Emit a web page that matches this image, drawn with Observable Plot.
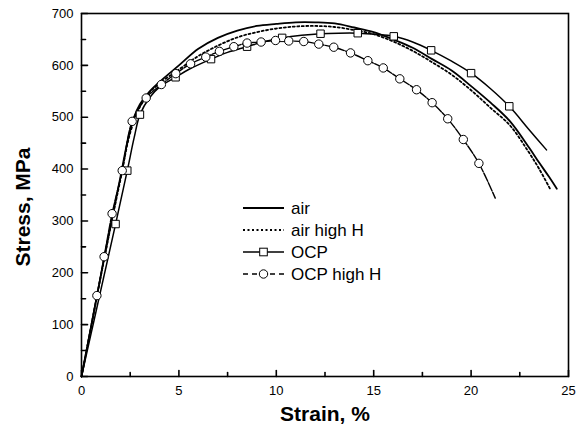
<!DOCTYPE html>
<html>
<head>
<meta charset="utf-8">
<script src="https://cdn.jsdelivr.net/npm/d3@7"></script>
<script src="https://cdn.jsdelivr.net/npm/@observablehq/plot@0.6"></script>
<style>
html,body{margin:0;padding:0;background:#fff;}
svg{display:block;}
</style>
</head>
<body>
<div id="chart"></div>
<script>
// ---- data ----
const airStrain = [0,0.5,1,1.5,2,2.4,2.7,3,3.5,4,5,6,7,8,9,10,11,12,13,14,15,16,17,18,19,20,21,22,23,23.5,24,24.4];
const airStress = [0,98,196,292,385,460,500,525,550,568,600,632,653,667,676,680,683,683,681,673,664,650,634,612,590,560,528,492,440,412,385,362];

const airHStrain = [0,0.5,1,1.5,2,2.5,3,3.5,4,5,6,7,8,9,10,11,12,13,14,15,16,17,18,19,20,21,22,22.9,23.5,24.08];
const airHStress = [0,97,195,290,380,470,520,548,565,592,618,638,654,664,671,675,676,674,668,660,646,628,606,582,552,518,484,436,400,360];

const ocpStrain = [0,0.5,1,1.75,2.35,2.7,3.0,3.5,4,4.83,5.5,6.65,7.5,8.5,9.4,10.3,11.3,12.27,13.2,14.18,15.1,16.03,17,17.95,19,20,21,21.96,23,23.87];
const ocpStress = [0,84,168,294,397,460,505,538,558,577,592,612,625,636,646,653,658,661,662,662,660,656,645,629,608,585,555,521,475,437];
const ocpMarkStrain = [1.75,2.35,3.0,4.83,6.65,8.5,10.3,12.27,14.18,16.03,17.95,20,21.96];
const ocpMarkStress = [294,397,505,577,612,636,653,661,662,656,629,585,521];

const ocpHStrain = [0,0.79,1.16,1.57,2.09,2.6,3.32,4.1,4.84,5.6,6.38,7.08,7.82,8.5,9.22,9.96,10.64,11.41,12.18,12.95,13.81,14.7,15.49,16.34,17.2,18.0,18.8,19.6,20.4,21.24];
const ocpHStress = [0,156,231,314,397,492,537,563,584,603,616,627,636,643,645,648,647,646,641,635,624,609,595,574,553,528,497,457,411,344];
const ocpHMarkStrain = ocpHStrain.slice(1, -1);
const ocpHMarkStress = ocpHStress.slice(1, -1);

const xMajor = [0,5,10,15,20,25];
const xMinor = [2.5,7.5,12.5,17.5,22.5];
const yMajor = [0,100,200,300,400,500,600,700];
const yMinor = [50,150,250,350,450,550,650];

const seriesNames = ["air","air high H","OCP","OCP high H"];

const toRows = (xs, ys) => xs.map((x, i) => ({strain: x, stress: ys[i]}));
const air = toRows(airStrain, airStress);
const airH = toRows(airHStrain, airHStress);
const ocp = toRows(ocpStrain, ocpStress);
const ocpM = toRows(ocpMarkStrain, ocpMarkStress);
const ocpH = toRows(ocpHStrain, ocpHStress);
const ocpHM = toRows(ocpHMarkStrain, ocpHMarkStress);

const FONT = "'Liberation Sans', Arial, Helvetica, sans-serif";
const tickShape = {draw(ctx, l) { ctx.moveTo(0, 0); ctx.lineTo(0, -l); }};

const plot = Plot.plot({
  width: 583,
  height: 429,
  marginLeft: 81,
  marginRight: 15,
  marginTop: 13,
  marginBottom: 53,
  style: {fontFamily: FONT, background: "white", color: "black"},
  x: {domain: [0, 25]},
  y: {domain: [0, 700]},
  marks: [
    Plot.line(air, {x: "strain", y: "stress", stroke: "black", strokeWidth: 1.8, curve: "catmull-rom"}),
    Plot.line(airH, {x: "strain", y: "stress", stroke: "black", strokeWidth: 1.8, strokeDasharray: "2,2.5", curve: "catmull-rom"}),
    Plot.line(ocp, {x: "strain", y: "stress", stroke: "black", strokeWidth: 1.5, curve: "catmull-rom"}),
    Plot.line(ocpH, {x: "strain", y: "stress", stroke: "black", strokeWidth: 1.4, strokeDasharray: "9,1.5", curve: "catmull-rom"}),
    Plot.dot(ocpM, {x: "strain", y: "stress", symbol: "square", r: 4.2, fill: "white", stroke: "black", strokeWidth: 1}),
    Plot.dot(ocpHM, {x: "strain", y: "stress", symbol: "circle", r: 4.2, fill: "white", stroke: "black", strokeWidth: 1}),
    Plot.frame({stroke: "black", strokeWidth: 1.6}),
    Plot.vector(xMajor, {x: d => d, y: 0, length: 6, rotate: 0, anchor: "start", stroke: "black", strokeWidth: 1.6, shape: tickShape}),
    Plot.vector(xMinor, {x: d => d, y: 0, length: 4, rotate: 0, anchor: "start", stroke: "black", strokeWidth: 1.6, shape: tickShape}),
    Plot.vector(yMajor, {x: 0, y: d => d, length: 6, rotate: 90, anchor: "start", stroke: "black", strokeWidth: 1.6, shape: tickShape}),
    Plot.vector(yMinor, {x: 0, y: d => d, length: 4, rotate: 90, anchor: "start", stroke: "black", strokeWidth: 1.6, shape: tickShape}),
    Plot.axisX({ticks: xMajor, tickSize: 0, tickPadding: 9, fontSize: 13, label: null, tickFormat: d => String(d)}),
    Plot.axisY({ticks: yMajor, tickSize: 0, tickPadding: 8, fontSize: 13, label: null, tickFormat: d => String(d)}),
    Plot.text(["Strain, %"], {frameAnchor: "bottom", textAnchor: "middle", lineAnchor: "middle", dy: 38, fontSize: 21, fontWeight: "bold", fill: "black"}),
    Plot.text(["Stress, MPa"], {frameAnchor: "left", textAnchor: "middle", lineAnchor: "middle", dx: -58, dy: 12, rotate: -90, fontSize: 21, fontWeight: "bold", fill: "black"})
  ]
});

// ---- legend (inside plot area) ----
const svg = d3.select(plot);
const lg = svg.append("g").attr("font-family", FONT).attr("font-size", 17).attr("text-anchor", "start");
const rowsY = [208, 230, 252, 274];
const styles = [
  {w: 1.8, dash: null, mark: null},
  {w: 1.8, dash: "2,2.5", mark: null},
  {w: 1.5, dash: null, mark: "square"},
  {w: 1.5, dash: "5,4", mark: "circle"}
];
seriesNames.forEach((name, i) => {
  const y = rowsY[i], s = styles[i];
  const ln = lg.append("line").attr("x1", 243).attr("x2", 284).attr("y1", y).attr("y2", y)
    .attr("stroke", "black").attr("stroke-width", s.w);
  if (s.dash) ln.attr("stroke-dasharray", s.dash);
  if (s.mark === "square") {
    lg.append("rect").attr("x", 263.5 - 3.8).attr("y", y - 3.8).attr("width", 7.6).attr("height", 7.6)
      .attr("fill", "white").attr("stroke", "black").attr("stroke-width", 1);
  } else if (s.mark === "circle") {
    lg.append("circle").attr("cx", 263.5).attr("cy", y).attr("r", 4.2)
      .attr("fill", "white").attr("stroke", "black").attr("stroke-width", 1);
  }
  lg.append("text").attr("x", 291).attr("y", y).attr("dy", "0.35em").attr("fill", "black").text(name);
});

document.getElementById("chart").appendChild(plot);
</script>
</body>
</html>
